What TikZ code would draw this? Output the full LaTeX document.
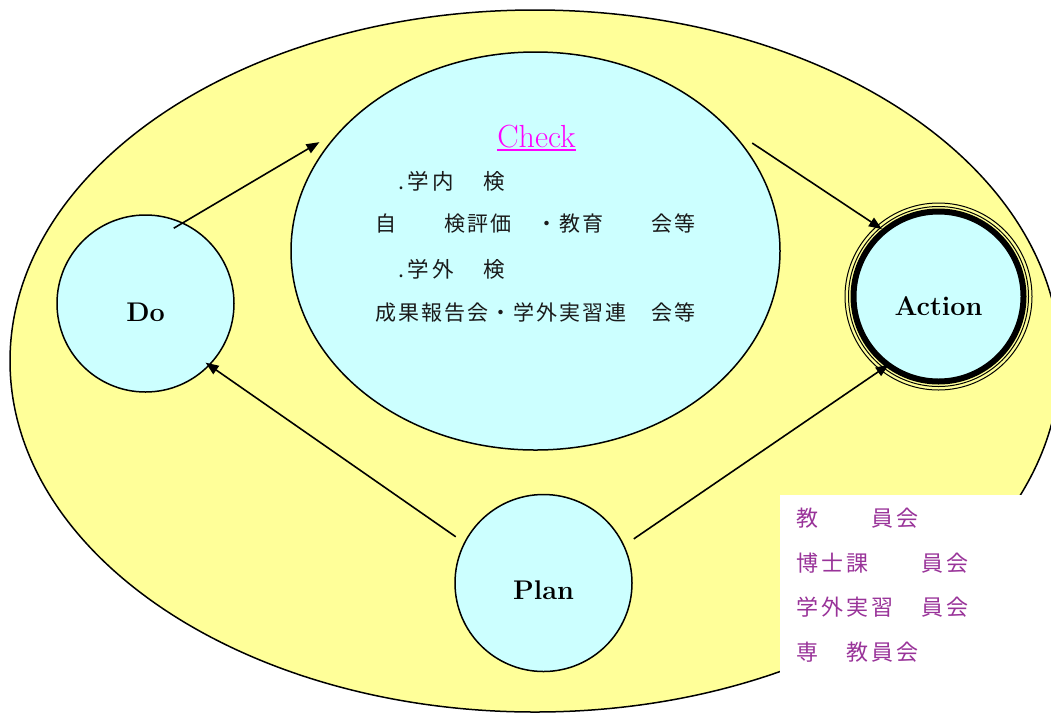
\documentclass[tikz,border=0pt]{standalone}
\usepackage{fontspec}
\newfontfamily\jpA[LetterSpace=9.5]{Noto Sans CJK JP}
\newfontfamily\jpB[LetterSpace=17]{Noto Sans CJK JP}
\newfontfamily\jpC[LetterSpace=13.6]{Noto Sans CJK JP}
\usetikzlibrary{arrows.meta,shapes.geometric}
\definecolor{bgyellow}{HTML}{FFFF99}
\definecolor{lcyan}{HTML}{CCFFFF}
\definecolor{chk}{HTML}{FF00FF}
\definecolor{purp}{HTML}{993399}
\definecolor{jtext}{HTML}{1A1A1A}
\begin{document}
\begin{tikzpicture}[x=1pt,y=-1pt,
  bub/.style={circle, draw, line width=1.5pt, fill=lcyan, minimum size=177pt, inner sep=0pt},
  arr/.style={-{Triangle[length=13pt,width=10pt]}, line width=1.6pt},
  lbl/.style={font=\bfseries\fontsize{27}{30}\selectfont, inner sep=0pt},
  jt/.style={anchor=base west, inner sep=0pt, text=jtext},
  pt/.style={anchor=base west, inner sep=0pt, text=purp, font=\jpC\fontsize{22}{26}\selectfont}]
\useasboundingbox (0,0) rectangle (1051,713);
\fill[white] (0,0) rectangle (1051,713);
% outer yellow ellipse
\draw[fill=bgyellow, line width=1.5pt] (535,361) ellipse [x radius=525pt, y radius=351pt];
% white box
\fill[white] (780,495) rectangle (1051,673);
% check ellipse
\node[ellipse, draw, line width=1.5pt, fill=lcyan, minimum width=489pt, minimum height=398pt, inner sep=0pt] (check) at (535.5,251) {};
% Do, Plan
\node[bub, label={[lbl,yshift=-8.5pt]center:Do}] (do) at (145.5,303.5) {};
\node[bub, label={[lbl,yshift=-7pt]center:Plan}] (plan) at (543.5,583) {};
% Action
\node[circle, draw, line width=6pt, fill=lcyan, minimum size=170pt, inner sep=0pt,
      label={[lbl,yshift=-10pt]center:Action}] (action) at (938.5,296.5) {};
\draw[line width=1pt] (action.center) circle [radius=93.5pt];
\draw[line width=1pt] (action.center) circle [radius=90pt];
% Check title
\node[text=chk, font=\fontsize{32}{36}\selectfont\addfontfeatures{FakeBold=0.8}, inner sep=0pt, anchor=base] (chklbl) at (536.5,147) {Check};
\draw[chk, line width=1.8pt] ([yshift=-3pt]chklbl.base west) -- ([yshift=-3pt]chklbl.base east);
% check text
\node[jt, font=\jpB\fontsize{21.5}{25}\selectfont] (c1) at (398,189) {.学内　検};
\node[jt, font=\jpA\fontsize{21}{25}\selectfont] (c2) at (375,231) {自　　検評価　・教育　　会等};
\node[jt, font=\jpB\fontsize{21.5}{25}\selectfont] (c3) at (398,277) {.学外　検};
\node[jt, font=\jpA\fontsize{21}{25}\selectfont] (c4) at (375,320) {成果報告会・学外実習連　会等};
% box text
\node[pt] (b1) at (796,526) {教　　員会};
\node[pt] (b2) at (796,571) {博士課　　員会};
\node[pt] (b3) at (796,615) {学外実習　員会};
\node[pt] (b4) at (796,660) {専　教員会};
% arrows
\draw[arr, shorten <=-11pt, shorten >=25pt] (do.65) -- (check.148);
\draw[arr, shorten <=30pt] (check.33.5) -- (action.130.4);
\draw[arr, shorten <=10pt, shorten >=-5pt] (plan.153.6) -- (do.-44);
\draw[arr, shorten <=11.4pt, shorten >=-4pt] (plan.25.1) -- (action.-127.8);
\end{tikzpicture}
\end{document}
